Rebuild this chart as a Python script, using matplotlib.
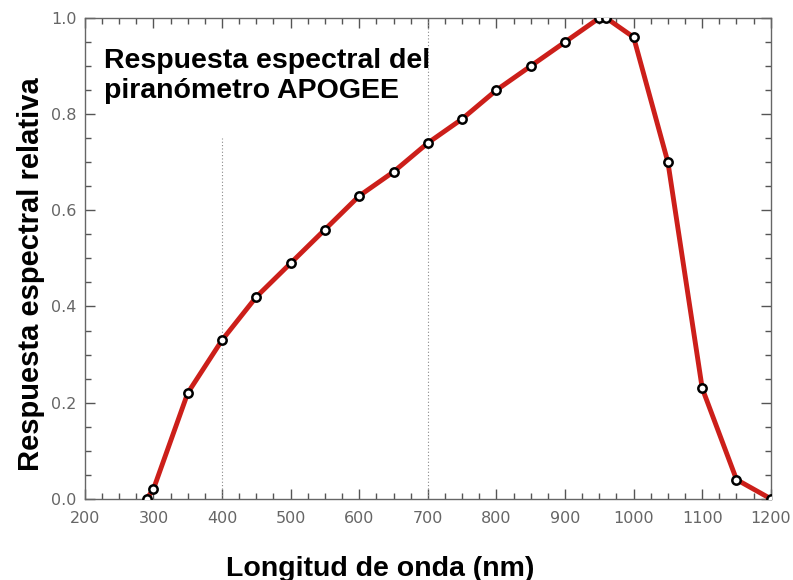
import matplotlib
matplotlib.use("Agg")
import matplotlib.pyplot as plt
from matplotlib.ticker import MultipleLocator

plt.rcParams['font.family'] = ['Liberation Sans', 'DejaVu Sans']

# Spectral response of the APOGEE pyranometer
wavelength = [290, 300, 350, 400, 450, 500, 550, 600, 650, 700, 750,
              800, 850, 900, 950, 960, 1000, 1050, 1100, 1150, 1200]
response = [0.0, 0.02, 0.22, 0.33, 0.42, 0.49, 0.56, 0.63, 0.68, 0.74, 0.79,
            0.85, 0.90, 0.95, 1.0, 1.0, 0.96, 0.70, 0.23, 0.04, 0.0]

# dotted reference lines: x position and how high they reach
ref_x = [400, 700]
ref_top = [0.75, 1.0]

fig = plt.figure(figsize=(7.93, 5.80), dpi=100)
ax = fig.add_axes([0.107, 0.140, 0.865, 0.829])

for x, top in zip(ref_x, ref_top):
    ax.plot([x, x], [0, top], color='#888888', linestyle=(0, (1, 2)), linewidth=0.8)

ax.plot(wavelength, response, color='#cc1f1a', linewidth=3.5, zorder=3)
ax.plot(wavelength, response, linestyle='none', marker='o', markersize=6,
        markerfacecolor='white', markeredgecolor='black', markeredgewidth=1.8, zorder=4)

ax.set_xlim(200, 1200)
ax.set_ylim(0, 1.0)
ax.xaxis.set_major_locator(MultipleLocator(100))
ax.xaxis.set_minor_locator(MultipleLocator(25))
ax.yaxis.set_major_locator(MultipleLocator(0.2))
ax.yaxis.set_minor_locator(MultipleLocator(0.05))
ax.yaxis.set_major_formatter(plt.FuncFormatter(lambda v, p: '%.1f' % v))

ax.tick_params(which='both', direction='in', top=True, right=True,
               color='#555555', labelsize=11.5, labelcolor='#666666')
ax.tick_params(axis='x', pad=9)
ax.tick_params(axis='y', pad=6)
ax.tick_params(which='major', length=7, width=1)
ax.tick_params(which='minor', length=4, width=1)
for lab in ax.get_xticklabels() + ax.get_yticklabels():
    lab.set_family('DejaVu Sans')
for s in ax.spines.values():
    s.set_color('#666666')
    s.set_linewidth(1)

ax.set_xlabel('Longitud de onda (nm)', fontsize=20.5, fontweight='bold')
ax.set_ylabel('Respuesta espectral relativa', fontsize=21, fontweight='bold')
ax.xaxis.set_label_coords(0.43, -0.118)
ax.yaxis.set_label_coords(-0.058, 0.468)

ax.text(0.028, 0.938, 'Respuesta espectral del\npiranómetro APOGEE', transform=ax.transAxes,
        fontsize=20.5, fontweight='bold', va='top', ha='left', linespacing=1.2)

fig.savefig('out.png', dpi=100, facecolor='white')
